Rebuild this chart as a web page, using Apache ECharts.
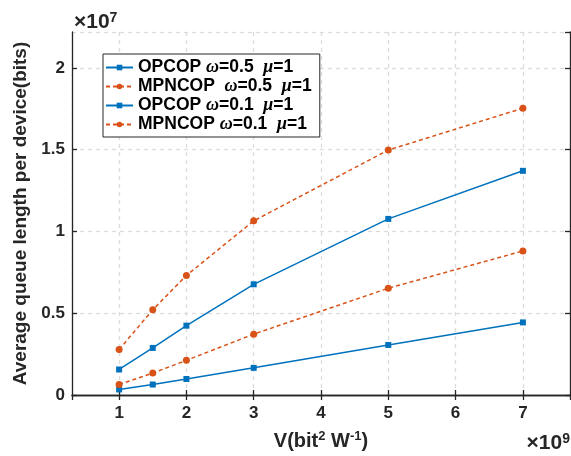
<!DOCTYPE html>
<html>
<head>
<meta charset="utf-8">
<script src="https://cdn.jsdelivr.net/npm/echarts@6/dist/echarts.min.js"></script>
<style>
html,body{margin:0;padding:0;background:#fff;}
#chart{width:571px;height:456px;}
</style>
</head>
<body>
<div id="chart"></div>
<script>
// V values, in units of 1e9 bit^2 W^-1
const vValues = [1, 1.5, 2, 3, 5, 7];
// Average queue length per device, in units of 1e7 bits
const opcop05 = [0.156, 0.288, 0.424, 0.677, 1.077, 1.371];
const mpncop05 = [0.278, 0.521, 0.731, 1.065, 1.498, 1.754];
const opcop01 = [0.034, 0.064, 0.098, 0.166, 0.306, 0.444];
const mpncop01 = [0.064, 0.134, 0.212, 0.372, 0.653, 0.881];
const seriesNames = ['OPCOP ω=0.5 μ=1', 'MPNCOP  ω=0.5 μ=1', 'OPCOP ω=0.1 μ=1', 'MPNCOP ω=0.1 μ=1'];
const yTickLabels = ['0', '0.5', '1', '1.5', '2'];
const xTickLabels = ['1', '2', '3', '4', '5', '6', '7'];

const BLUE = '#0072BD';
const ORANGE = '#D95319';
const AXIS = '#262626';
const FONT = '"Liberation Sans", Arial, Helvetica, sans-serif';

function pairs(ys) { return vValues.map((x, i) => [x, ys[i]]); }

function mkSeries(name, ys, isMp) {
  return {
    name: name,
    type: 'line',
    data: pairs(ys),
    symbol: isMp ? 'circle' : 'rect',
    symbolSize: isMp ? 7 : 6,
    color: isMp ? ORANGE : BLUE,
    lineStyle: { color: isMp ? ORANGE : BLUE, width: 1.5, type: isMp ? [4, 3] : 'solid' },
    itemStyle: { color: isMp ? ORANGE : BLUE },
    animation: false,
    z: 5
  };
}

const chart = echarts.init(document.getElementById('chart'), null, { renderer: 'canvas' });

const supStyle = { fontSize: 13, fontWeight: 'bold', fontFamily: FONT, color: '#262626', verticalAlign: 'top', lineHeight: 12 };

const option = {
  backgroundColor: '#fff',
  animation: false,
  grid: { left: 72, right: 1, top: 32, bottom: 54, containLabel: false },
  legend: {
    left: 103,
    top: 54,
    orient: 'vertical',
    data: seriesNames,
    itemWidth: 27,
    itemHeight: 7,
    itemGap: 0,
    padding: [4, 8, 3, 2],
    backgroundColor: '#fff',
    borderColor: AXIS,
    borderWidth: 1,
    selectedMode: false,
    textStyle: {
      fontFamily: FONT, fontSize: 17.5, fontWeight: 'bold', color: '#000', lineHeight: 19,
      rich: {
        b: { fontFamily: FONT, fontSize: 17.5, fontWeight: 'bold', color: '#000', lineHeight: 19 },
        g: { fontFamily: '"Liberation Serif", "DejaVu Serif", serif', fontSize: 18, fontStyle: 'italic', color: '#000', lineHeight: 19 }
      }
    },
    formatter: function (name) {
      const m = name.match(/^(\S+)(\s+)ω(=[\d.]+) μ(=\d+)$/);
      if (!m) return name;
      return '{b|' + m[1] + m[2] + '}{g|ω}{b|' + m[3] + '  }{g|μ}{b|' + m[4] + '}';
    }
  },
  xAxis: [{
    type: 'value',
    position: 'bottom',
    min: 0.3, max: 7.7,
    splitNumber: 7,
    axisLine: { show: true, lineStyle: { color: AXIS, width: 1.3 } },
    axisTick: { show: true, inside: true, length: 5, lineStyle: { color: AXIS, width: 1.3 } },
    axisLabel: {
      showMinLabel: false, showMaxLabel: false, margin: 10,
      fontFamily: FONT, fontSize: 17, fontWeight: 'bold', color: '#262626',
      formatter: function (v) { const s = String(v); return xTickLabels.indexOf(s) >= 0 ? s : ''; }
    },
    splitLine: { show: true, lineStyle: { color: '#dcdcdc', type: [4, 4], width: 1.3 } },
    name: '{t|V(bit}{s|2}{t| W}{s|-1}{t|)}',
    nameLocation: 'middle',
    nameGap: 35,
    nameTextStyle: {
      rich: {
        t: { fontSize: 20, fontWeight: 'bold', fontFamily: FONT, color: '#262626', lineHeight: 22 },
        s: supStyle
      }
    }
  }, {
    type: 'value',
    position: 'top',
    min: 0.3, max: 7.7,
    splitNumber: 7,
    axisLine: { show: true, lineStyle: { color: AXIS, width: 1.3 } },
    axisTick: { show: true, inside: true, length: 5, lineStyle: { color: AXIS, width: 1.3 } },
    axisLabel: { show: false },
    splitLine: { show: false }
  }],
  yAxis: [{
    type: 'value',
    position: 'left',
    min: 0, max: 2.22,
    interval: 0.5,
    axisLine: { show: true, lineStyle: { color: AXIS, width: 1.3 } },
    axisTick: { show: true, inside: true, length: 5, lineStyle: { color: AXIS, width: 1.3 } },
    axisLabel: {
      showMaxLabel: false, margin: 7,
      fontFamily: FONT, fontSize: 17, fontWeight: 'bold', color: '#262626',
      formatter: function (v) { const i = Math.round(v / 0.5); return (Math.abs(v - i * 0.5) < 1e-6 && yTickLabels[i]) ? yTickLabels[i] : ''; }
    },
    splitLine: { show: true, lineStyle: { color: '#dcdcdc', type: [4, 4], width: 1.3 } },
    name: 'Average queue length per device(bits)',
    nameLocation: 'middle',
    nameGap: 40,
    nameTextStyle: { fontFamily: FONT, fontSize: 19, fontWeight: 'bold', color: '#262626' }
  }, {
    type: 'value',
    position: 'right',
    min: 0, max: 2.22,
    interval: 0.5,
    axisLine: { show: true, lineStyle: { color: AXIS, width: 1.3 } },
    axisTick: { show: true, inside: true, length: 5, lineStyle: { color: AXIS, width: 1.3 } },
    axisLabel: { show: false },
    splitLine: { show: false }
  }],
  graphic: [{
    type: 'text',
    left: 74, top: 11,
    style: {
      text: '{t|×10}{s|7}',
      rich: {
        t: { fontSize: 21, fontWeight: 'bold', fontFamily: FONT, fill: '#262626', lineHeight: 22 },
        s: { fontSize: 14, fontWeight: 'bold', fontFamily: FONT, fill: '#262626', verticalAlign: 'top', lineHeight: 12 }
      }
    }
  }, {
    type: 'text',
    right: 1, top: 432,
    style: {
      text: '{t|×10}{s|9}',
      rich: {
        t: { fontSize: 21, fontWeight: 'bold', fontFamily: FONT, fill: '#262626', lineHeight: 22 },
        s: { fontSize: 14, fontWeight: 'bold', fontFamily: FONT, fill: '#262626', verticalAlign: 'top', lineHeight: 12 }
      }
    }
  }],
  series: [
    mkSeries(seriesNames[0], opcop05, false),
    mkSeries(seriesNames[1], mpncop05, true),
    mkSeries(seriesNames[2], opcop01, false),
    mkSeries(seriesNames[3], mpncop01, true)
  ]
};
chart.setOption(option);
</script>
</body>
</html>
